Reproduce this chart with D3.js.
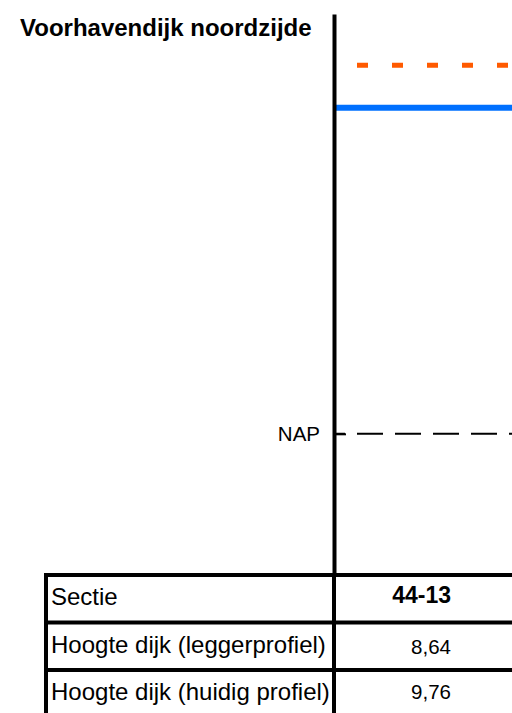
<!DOCTYPE html>
<html>
<head>
<meta charset="utf-8">
<script src="https://cdn.jsdelivr.net/npm/d3@7"></script>
<style>
  body { margin: 0; background: #fff; }
  svg { display: block; font-family: "Liberation Sans", Arial, sans-serif; }
</style>
</head>
<body>
<div id="chart"></div>
<script>
const width = 512;
const height = 713;

// data
const title = "Voorhavendijk noordzijde";
const sections = ["44-13"];
const rowLabels = ["Sectie", "Hoogte dijk (leggerprofiel)", "Hoogte dijk (huidig profiel)"];
const leggerHeight = [8.64];
const huidigHeight = [9.76];
const napLevel = [0];
const napLabel = "NAP";

const nlFormat = d3.formatLocale({ decimal: ",", thousands: ".", grouping: [3], currency: ["€", ""] }).format(".2f");

const axisX = 334;
const tableTop = 575;
const rowHeight = 47.5;

const y = d3.scaleLinear()
    .domain([-3.74, 11.12])
    .range([tableTop, 14]);

const x = d3.scaleBand()
    .domain(sections)
    .range([axisX + 2, 560]);

const svg = d3.select("#chart")
    .append("svg")
    .attr("width", width)
    .attr("height", height);

// title
svg.append("text")
    .attr("x", 20)
    .attr("y", 36)
    .attr("font-size", "24px")
    .attr("font-weight", "bold")
    .attr("fill", "#000")
    .text(title);

// NAP dashed reference line
svg.selectAll("line.nap")
    .data(napLevel)
    .enter()
    .append("line")
    .attr("class", "nap")
    .attr("x1", x.range()[0])
    .attr("x2", x.range()[1])
    .attr("y1", d => y(d))
    .attr("y2", d => y(d))
    .attr("stroke", "#000")
    .attr("stroke-width", 2)
    .attr("stroke-dasharray", "26,12")
    .attr("stroke-dashoffset", 17);

// dike height, current profile (dashed orange)
svg.selectAll("line.huidig")
    .data(sections)
    .enter()
    .append("line")
    .attr("class", "huidig")
    .attr("x1", d => x(d))
    .attr("x2", d => x(d) + x.bandwidth())
    .attr("y1", (d, i) => y(huidigHeight[i]))
    .attr("y2", (d, i) => y(huidigHeight[i]))
    .attr("stroke", "#ff5a00")
    .attr("stroke-width", 5)
    .attr("stroke-dasharray", "11,24")
    .attr("stroke-dashoffset", 14);

// dike height, legger profile (solid blue)
svg.selectAll("line.legger")
    .data(sections)
    .enter()
    .append("line")
    .attr("class", "legger")
    .attr("x1", d => x(d))
    .attr("x2", d => x(d) + x.bandwidth())
    .attr("y1", (d, i) => y(leggerHeight[i]))
    .attr("y2", (d, i) => y(leggerHeight[i]))
    .attr("stroke", "#0070ff")
    .attr("stroke-width", 6);

// vertical axis with NAP label
const axis = svg.append("g")
    .attr("transform", `translate(${axisX},0)`)
    .call(d3.axisLeft(y)
        .tickValues(napLevel)
        .tickSizeInner(-12)
        .tickSizeOuter(0)
        .tickPadding(14)
        .tickFormat(() => napLabel));

axis.select(".domain")
    .attr("stroke", "#000")
    .attr("stroke-width", 4);
axis.selectAll(".tick line")
    .attr("stroke", "#000")
    .attr("stroke-width", 2);
axis.selectAll(".tick text")
    .attr("font-size", "20.5px")
    .attr("font-family", "\"Liberation Sans\", Arial, sans-serif")
    .attr("fill", "#000");

// table
const table = svg.append("g");
const rowY = i => tableTop + i * rowHeight;

table.selectAll("line.row")
    .data(rowLabels)
    .enter()
    .append("line")
    .attr("class", "row")
    .attr("x1", 44)
    .attr("x2", width)
    .attr("y1", (d, i) => rowY(i))
    .attr("y2", (d, i) => rowY(i))
    .attr("stroke", "#000")
    .attr("stroke-width", 4);

table.append("line")
    .attr("x1", 46).attr("x2", 46)
    .attr("y1", tableTop - 2).attr("y2", height)
    .attr("stroke", "#000")
    .attr("stroke-width", 4);

table.append("line")
    .attr("x1", axisX).attr("x2", axisX)
    .attr("y1", tableTop - 2).attr("y2", height)
    .attr("stroke", "#000")
    .attr("stroke-width", 4);

table.selectAll("text.label")
    .data(rowLabels)
    .enter()
    .append("text")
    .attr("class", "label")
    .attr("x", 51)
    .attr("y", (d, i) => rowY(i) + 30)
    .attr("font-size", "24px")
    .attr("fill", "#000")
    .text(d => d);

const valueX = d => x(d) + 115;

table.selectAll("text.section")
    .data(sections)
    .enter()
    .append("text")
    .attr("class", "section")
    .attr("x", valueX)
    .attr("y", rowY(0) + 28)
    .attr("text-anchor", "end")
    .attr("font-size", "23px")
    .attr("font-weight", "bold")
    .text(d => d);

table.selectAll("text.legger")
    .data(sections)
    .enter()
    .append("text")
    .attr("class", "legger")
    .attr("x", valueX)
    .attr("y", rowY(1) + 31)
    .attr("text-anchor", "end")
    .attr("font-size", "20.5px")
    .text((d, i) => nlFormat(leggerHeight[i]));

table.selectAll("text.huidig")
    .data(sections)
    .enter()
    .append("text")
    .attr("class", "huidig")
    .attr("x", valueX)
    .attr("y", rowY(2) + 29)
    .attr("text-anchor", "end")
    .attr("font-size", "20.5px")
    .text((d, i) => nlFormat(huidigHeight[i]));
</script>
</body>
</html>
